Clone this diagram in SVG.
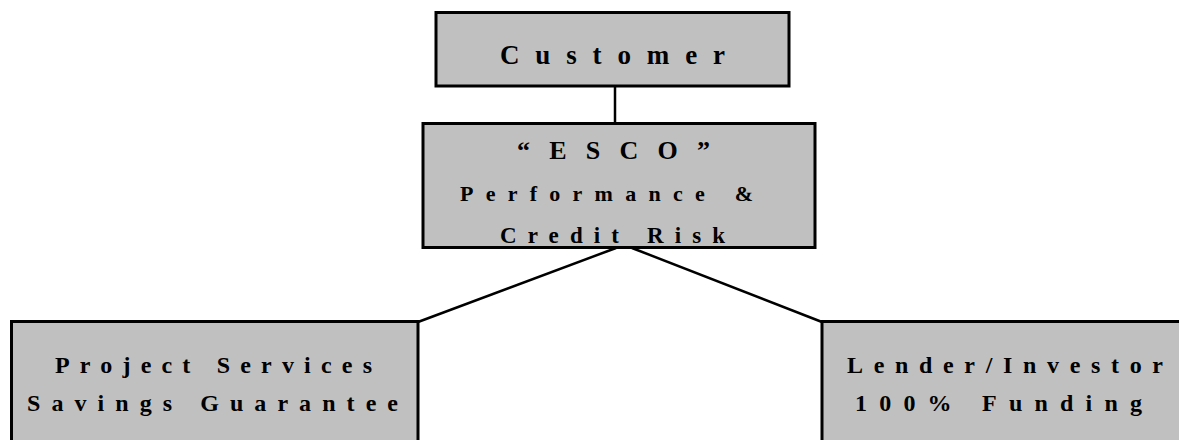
<svg xmlns="http://www.w3.org/2000/svg" width="1179" height="440" viewBox="0 0 1179 440">
  <style>
    .box { fill: #c0c0c0; stroke: #000000; stroke-width: 3; }
    .lbl { font-family: "Liberation Serif", "Times New Roman", serif; font-weight: bold; fill: #000000; }
    .conn { stroke: #000000; stroke-width: 2.5; fill: none; }
  </style>
  <rect width="1179" height="440" fill="#ffffff"/>
  <g id="connectors">
    <line class="conn" x1="615" y1="86" x2="615" y2="123"/>
    <line class="conn" x1="616" y1="248" x2="418" y2="322"/>
    <line class="conn" x1="632" y1="248" x2="822" y2="322"/>
  </g>
  <g id="customer">
    <rect class="box" x="436" y="12.5" width="353" height="73.5"/>
    <text class="lbl" x="500" y="64" font-size="27" textLength="225" lengthAdjust="spacing">Customer</text>
  </g>
  <g id="esco">
    <rect class="box" x="423" y="123.5" width="392" height="124"/>
    <text class="lbl" x="517" y="159" font-size="26" textLength="193" lengthAdjust="spacing">“ESCO”</text>
    <text class="lbl" x="460" y="201" font-size="22" textLength="293" lengthAdjust="spacing">Performance &amp;</text>
    <text class="lbl" x="500" y="243" font-size="23" textLength="225" lengthAdjust="spacing">Credit Risk</text>
  </g>
  <g id="project-services">
    <rect class="box" x="11.5" y="321.5" width="406.5" height="140"/>
    <text class="lbl" x="55" y="373" font-size="24" textLength="317" lengthAdjust="spacing">Project Services</text>
    <text class="lbl" x="27" y="411" font-size="24" textLength="371" lengthAdjust="spacing">Savings Guarantee</text>
  </g>
  <g id="lender">
    <rect class="box" x="822" y="321.5" width="400" height="140"/>
    <text class="lbl" x="847" y="373" font-size="24" textLength="316" lengthAdjust="spacing">Lender/Investor</text>
    <text class="lbl" x="855" y="411" font-size="24" textLength="287" lengthAdjust="spacing">100% Funding</text>
  </g>
</svg>
